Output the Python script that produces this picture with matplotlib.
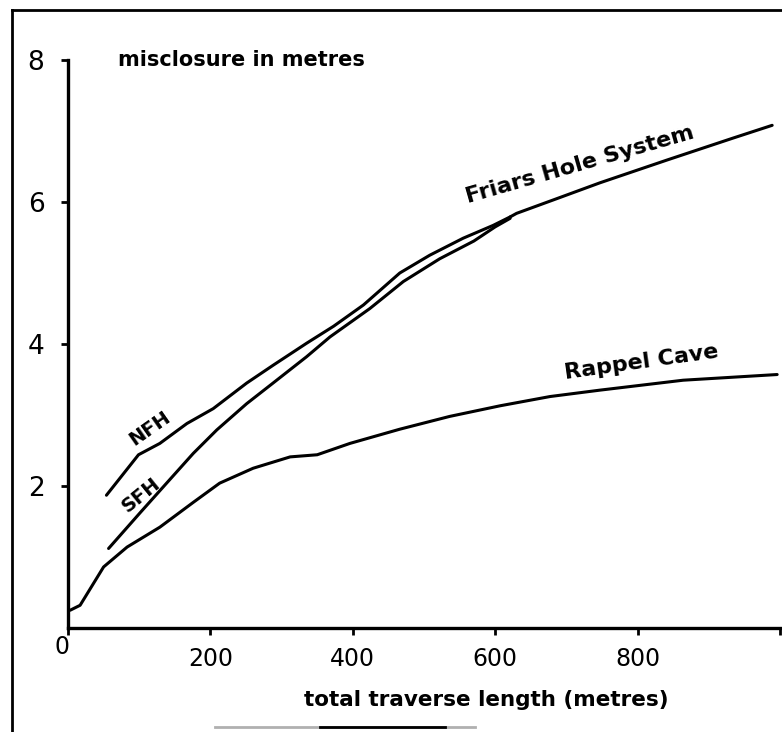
import matplotlib
matplotlib.use("Agg")
import matplotlib.pyplot as plt
from matplotlib.lines import Line2D

# ---- data ----
nfh_x = [54, 99, 129, 167, 204, 251, 288, 335, 373, 415, 466, 508, 555, 597, 621]
nfh_y = [1.87, 2.44, 2.60, 2.88, 3.09, 3.45, 3.70, 4.01, 4.25, 4.55, 5.00, 5.25, 5.49, 5.67, 5.79]

sfh_x = [57, 101, 134, 176, 209, 251, 288, 335, 368, 424, 471, 522, 570, 600, 621]
sfh_y = [1.12, 1.62, 1.99, 2.46, 2.79, 3.16, 3.45, 3.82, 4.10, 4.50, 4.88, 5.20, 5.45, 5.65, 5.77]

friars_x = [621, 630, 690, 747, 841, 934, 989]
friars_y = [5.79, 5.84, 6.06, 6.27, 6.59, 6.90, 7.08]

rappel_x = [3, 17, 50, 83, 129, 176, 213, 260, 312, 350, 396, 466, 536, 607, 677, 747, 864, 996]
rappel_y = [0.25, 0.32, 0.86, 1.14, 1.42, 1.77, 2.04, 2.25, 2.41, 2.44, 2.60, 2.80, 2.98, 3.13, 3.26, 3.35, 3.49, 3.57]

x_ticks = [0, 200, 400, 600, 800, 1000]
x_tick_labels = ["", "200", "400", "600", "800", ""]
y_ticks = [2, 4, 6, 8]
y_tick_labels = ["2", "4", "6", "8"]

W, H = 782, 732
fig = plt.figure(figsize=(W / 100, H / 100), dpi=100)
fig.patch.set_facecolor("white")
ax = fig.add_axes([68 / W, 104 / H, 712 / W, 568 / H])
ax.set_xlim(0, 1000)
ax.set_ylim(0, 8)

lw = 2.2
for xs, ys in [(nfh_x, nfh_y), (sfh_x, sfh_y), (friars_x, friars_y), (rappel_x, rappel_y)]:
    ax.plot(xs, ys, color="black", lw=lw, solid_capstyle="round", solid_joinstyle="round")

for s in ["top", "right"]:
    ax.spines[s].set_visible(False)
for s in ["left", "bottom"]:
    ax.spines[s].set_linewidth(2.4)
    ax.spines[s].set_color("black")

tick_font = dict(family="DejaVu Sans", size=17)
ax.set_xticks(x_ticks)
ax.set_xticklabels(x_tick_labels, **tick_font)
ax.set_yticks(y_ticks)
ax.set_yticklabels(y_tick_labels, family="DejaVu Sans", size=19)
ax.tick_params(axis="x", direction="out", length=5, width=2, pad=9)
ax.tick_params(axis="y", direction="out", length=5, width=2, pad=12)
ax.text(-8, -0.27, "0", ha="center", va="center", **tick_font)

lab = dict(family="DejaVu Sans", weight="bold", color="black")
fig.text(241 / W, 1 - 60 / H, "misclosure in metres", ha="center", va="center", size=15, **lab)
fig.text(486 / W, 1 - 700 / H, "total traverse length (metres)", ha="center", va="center", size=15.5, **lab)
fig.text(580 / W, 1 - 165 / H, "Friars Hole System", ha="center", va="center", size=16,
         rotation=16, rotation_mode="anchor", **lab)
fig.text(641 / W, 1 - 362 / H, "Rappel Cave", ha="center", va="center", size=16,
         rotation=8, rotation_mode="anchor", **lab)
fig.text(150 / W, 1 - 428 / H, "NFH", ha="center", va="center", size=14,
         rotation=35, rotation_mode="anchor", **lab)
fig.text(141 / W, 1 - 495 / H, "SFH", ha="center", va="center", size=14,
         rotation=39, rotation_mode="anchor", **lab)

# page frame
fig.add_artist(Line2D([12 / W, 12 / W], [0, 1 - 10 / H], color="black", lw=2))
fig.add_artist(Line2D([12 / W, 1], [1 - 10 / H, 1 - 10 / H], color="black", lw=2))
fig.add_artist(Line2D([215 / W, 475 / W], [1 - 727 / H, 1 - 727 / H], color="#b0b0b0", lw=2))
fig.add_artist(Line2D([320 / W, 445 / W], [1 - 727 / H, 1 - 727 / H], color="black", lw=2))

fig.savefig("out.png", dpi=100, facecolor="white")
